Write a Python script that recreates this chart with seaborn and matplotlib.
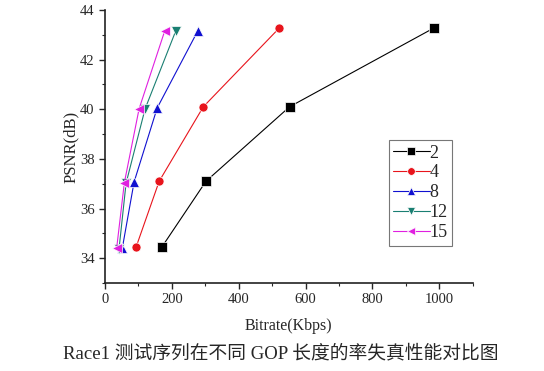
import matplotlib
matplotlib.use("Agg")
import matplotlib.pyplot as plt
import seaborn as sns
import pandas as pd
from matplotlib.ticker import MultipleLocator

gop_labels = ["2", "4", "8", "12", "15"]
bitrate_2 = [170, 302, 552, 983]
psnr_2 = [34.45, 37.1, 40.1, 43.27]
bitrate_4 = [93, 162, 294, 521]
psnr_4 = [34.45, 37.1, 40.1, 43.27]
bitrate_8 = [52, 87, 156, 278]
psnr_8 = [34.42, 37.07, 40.05, 43.17]
bitrate_12 = [42, 63, 120, 212]
psnr_12 = [34.38, 37.02, 40.02, 43.17]
bitrate_15 = [35, 58, 102, 179]
psnr_15 = [34.42, 37.05, 40.02, 43.17]

colors = ["#000000", "#e8141c", "#1010d0", "#1a7f72", "#e020e0"]
markers = ["s", "o", "^", "v", "<"]

rows = []
for lab, xs, ys in zip(gop_labels,
                       [bitrate_2, bitrate_4, bitrate_8, bitrate_12, bitrate_15],
                       [psnr_2, psnr_4, psnr_8, psnr_12, psnr_15]):
    for x, y in zip(xs, ys):
        rows.append({"GOP": lab, "Bitrate": x, "PSNR": y})
df = pd.DataFrame(rows)

sns.set_style("ticks")
plt.rcParams["font.family"] = ["Liberation Serif", "Noto Sans CJK SC"]

fig = plt.figure(figsize=(5.44, 3.71), dpi=100)
ax = fig.add_axes([0.193, 0.237, 0.676, 0.736])

sns.lineplot(data=df, x="Bitrate", y="PSNR", hue="GOP", style="GOP",
             hue_order=gop_labels, style_order=gop_labels,
             palette=colors, markers=markers, dashes=False,
             linewidth=0.8, markersize=6.5, markeredgewidth=0.5,
             sort=False, estimator=None, ax=ax)

ax.set_xlim(0, 1100)
ax.set_ylim(33, 44)
ax.xaxis.set_major_locator(MultipleLocator(200))
ax.xaxis.set_minor_locator(MultipleLocator(100))
ax.yaxis.set_major_locator(MultipleLocator(2))
ax.yaxis.set_minor_locator(MultipleLocator(1))
ax.tick_params(which="major", length=4, width=1, labelsize=10.5, direction="out")
ax.tick_params(which="minor", length=2.5, width=0.8, direction="out")
for s in ["top", "right"]:
    ax.spines[s].set_visible(False)
for s in ["left", "bottom"]:
    ax.spines[s].set_linewidth(1.2)
    ax.spines[s].set_color("#222222")

ax.set_xlabel("Bitrate(Kbps)", fontsize=11.5, labelpad=8)
ax.set_ylabel("PSNR(dB)", fontsize=12, labelpad=1)

leg = ax.legend(loc="upper left", bbox_to_anchor=(0.772, 0.524), frameon=True,
                fancybox=False, edgecolor="#555555", fontsize=13,
                handlelength=2.0, handletextpad=0.0, labelspacing=0.16,
                borderpad=0.25, borderaxespad=0)
leg.get_frame().set_linewidth(0.8)
for h in leg.legend_handles:
    h.set_markersize(5.5)
    h.set_linewidth(0.8)

fig.text(0.517, 0.048, "Race1 测试序列在不同 GOP 长度的率失真性能对比图",
         ha="center", va="center", fontsize=13.5)

fig.savefig("out.png", dpi=100)
